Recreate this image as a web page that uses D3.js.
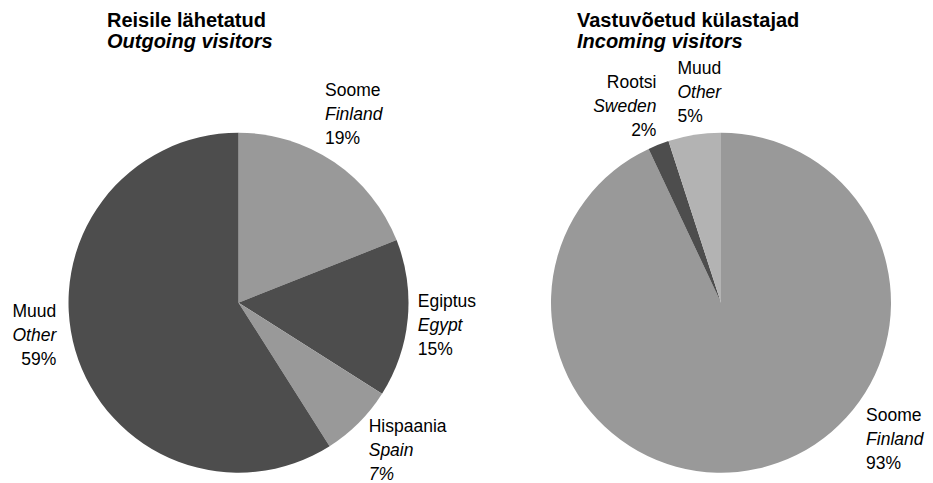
<!DOCTYPE html>
<html>
<head>
<meta charset="utf-8">
<script src="https://cdn.jsdelivr.net/npm/d3@7"></script>
<style>
  html, body { margin: 0; padding: 0; background: #fff; }
  svg { display: block; font-family: "Liberation Sans", Arial, sans-serif; }
</style>
</head>
<body>
<svg id="chart" width="933" height="483"></svg>
<script>
// Outgoing visitors (Reisile lähetatud)
const outNamesEt = ["Soome", "Egiptus", "Hispaania", "Muud"];
const outNamesEn = ["Finland", "Egypt", "Spain", "Other"];
const outValues  = [19, 15, 7, 59];

// Incoming visitors (Vastuvõetud külastajad)
const inNamesEt = ["Soome", "Rootsi", "Muud"];
const inNamesEn = ["Finland", "Sweden", "Other"];
const inValues  = [93, 2, 5];

const pieTitlesEt = ["Reisile lähetatud", "Vastuvõetud külastajad"];
const pieTitlesEn = ["Outgoing visitors", "Incoming visitors"];

// Slice fills per series
const outColors = ["#999999", "#4d4d4d", "#999999", "#4d4d4d"];
const inColors  = ["#999999", "#4d4d4d", "#b3b3b3"];

const svg = d3.select("#chart");
const R = 170;
const labelSize = 17.5;
const lineGap = 24;

// label nudges from the slice's outer edge point, and alignment
const outLabelLayout = [
  { dx: -9,  dy: -66, anchor: "start", pctItalic: false },
  { dx: 10,  dy: -12, anchor: "start", pctItalic: false },
  { dx: 10,  dy: 9,   anchor: "start", pctItalic: true },
  { dx: -19, dy: -33, anchor: "end",   pctItalic: false }
];
const inLabelLayout = [
  { dx: 108, dy: -48, anchor: "start", pctItalic: false },
  { dx: -2,  dy: -57, anchor: "end",   pctItalic: false },
  { dx: -17, dy: -61, anchor: "start", pctItalic: false }
];

function drawPie(cx, cy, titleX, et, en, values, colors, layout, tEt, tEn) {
  const g = svg.append("g").attr("transform", `translate(${cx},${cy})`);
  const pie = d3.pie().sort(null).value(d => d)
    .startAngle(0).endAngle(2 * Math.PI);
  const arcs = pie(values);
  const arc = d3.arc().innerRadius(0).outerRadius(R);
  const edge = d3.arc().innerRadius(R).outerRadius(R);

  g.selectAll("path.slice").data(arcs).enter().append("path")
    .attr("class", "slice")
    .attr("d", arc)
    .attr("fill", (d, i) => colors[i]);

  arcs.forEach((d, i) => {
    const p = edge.centroid(d);
    const L = layout[i];
    const t = g.append("text")
      .attr("x", p[0] + L.dx)
      .attr("y", p[1] + L.dy)
      .attr("text-anchor", L.anchor)
      .attr("font-size", labelSize)
      .attr("fill", "#000");
    t.append("tspan").attr("x", p[0] + L.dx).attr("dy", 0).text(et[i]);
    t.append("tspan").attr("x", p[0] + L.dx).attr("dy", lineGap)
      .attr("font-style", "italic").text(en[i]);
    t.append("tspan").attr("x", p[0] + L.dx).attr("dy", lineGap)
      .attr("font-style", L.pctItalic ? "italic" : "normal")
      .text(values[i] + "%");
  });

  const tt = svg.append("text")
    .attr("x", titleX).attr("y", 27)
    .attr("font-size", 20).attr("font-weight", "bold").attr("fill", "#000");
  tt.append("tspan").attr("x", titleX).text(tEt);
  tt.append("tspan").attr("x", titleX).attr("dy", 21)
    .attr("font-style", "italic").text(tEn);
}

drawPie(238.5, 302.7, 107, outNamesEt, outNamesEn, outValues, outColors,
        outLabelLayout, pieTitlesEt[0], pieTitlesEn[0]);
drawPie(721, 302.7, 577, inNamesEt, inNamesEn, inValues, inColors,
        inLabelLayout, pieTitlesEt[1], pieTitlesEn[1]);
</script>
</body>
</html>
